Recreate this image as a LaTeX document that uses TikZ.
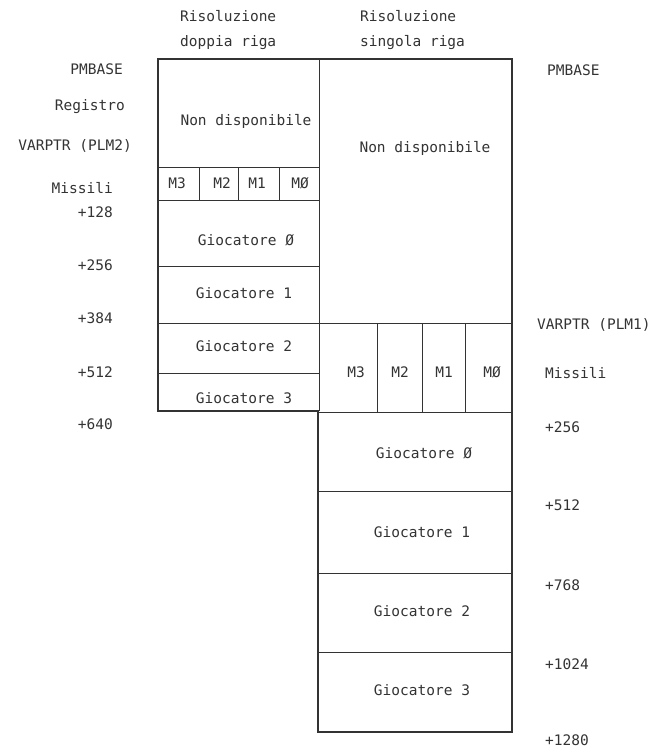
\documentclass[tikz,border=0pt]{standalone}
\usepackage{fontspec}
\setmonofont{DejaVu Sans Mono}
\begin{document}
\begin{tikzpicture}[x=1pt,y=-1pt,
  lbl/.style={font=\ttfamily\fontsize{14.5}{16}\selectfont, text=black!80, inner sep=0pt},
  outer/.style={draw=black!80, line width=1.6pt, line join=miter},
  inner/.style={draw=black!80, line width=0.8pt}]
\useasboundingbox (0,0) rectangle (667,750);
% outline
\draw[outer] (158,59) -- (512,59) -- (512,732) -- (318,732) -- (318,411) -- (158,411) -- cycle;
% internal lines, left column
\draw[inner] (319,59) -- (319,411);
\draw[inner] (158,167) -- (319,167);
\draw[inner] (158,200) -- (319,200);
\draw[inner] (158,266) -- (319,266);
\draw[inner] (158,323) -- (512,323);
\draw[inner] (158,373) -- (319,373);
\draw[inner] (199,167) -- (199,200);
\draw[inner] (238,167) -- (238,200);
\draw[inner] (279,167) -- (279,200);
% internal lines, right column
\draw[inner] (319,412) -- (512,412);
\draw[inner] (377,323) -- (377,412);
\draw[inner] (422,323) -- (422,412);
\draw[inner] (465,323) -- (465,412);
\draw[inner] (319,491) -- (512,491);
\draw[inner] (319,573) -- (512,573);
\draw[inner] (319,652) -- (512,652);
% headers
\node[lbl, anchor=west] (h1a) at (180,16) {Risoluzione};
\node[lbl, anchor=west] (h1b) at (180,43) {doppia riga};
\node[lbl, anchor=west] (h2a) at (360,16) {Risoluzione};
\node[lbl, anchor=west] (h2b) at (360,43) {singola riga};
% left column cells
\node[lbl] (lnd) at (246,121) {Non disponibile};
\node[lbl] (lm3) at (177,183) {M3};
\node[lbl] (lm2) at (222,183) {M2};
\node[lbl] (lm1) at (257,183) {M1};
\node[lbl] (lm0) at (300,183) {MØ};
\node[lbl] (lg0) at (246,240) {Giocatore Ø};
\node[lbl] (lg1) at (244,293) {Giocatore 1};
\node[lbl] (lg2) at (244,346) {Giocatore 2};
\node[lbl] (lg3) at (244,398) {Giocatore 3};
% right column cells
\node[lbl] (rnd) at (425,148) {Non disponibile};
\node[lbl] (rm3) at (356,372) {M3};
\node[lbl] (rm2) at (400,372) {M2};
\node[lbl] (rm1) at (444,372) {M1};
\node[lbl] (rm0) at (492,372) {MØ};
\node[lbl] (rg0) at (424,453) {Giocatore Ø};
\node[lbl] (rg1) at (422,532) {Giocatore 1};
\node[lbl] (rg2) at (422,611) {Giocatore 2};
\node[lbl] (rg3) at (422,690) {Giocatore 3};
% left labels
\node[lbl, anchor=east] (lpm) at (123,69) {PMBASE};
\node[lbl, anchor=east] (lreg) at (125,107) {Registro};
\node[lbl, anchor=east] (lvar) at (132,146) {VARPTR (PLM2)};
\node[lbl, anchor=east] (lmis) at (113,188) {Missili};
\node[lbl, anchor=east] (l128) at (113,212) {+128};
\node[lbl, anchor=east] (l256) at (113,265) {+256};
\node[lbl, anchor=east] (l384) at (113,318) {+384};
\node[lbl, anchor=east] (l512) at (113,372) {+512};
\node[lbl, anchor=east] (l640) at (113,424) {+640};
% right labels
\node[lbl, anchor=west] (rpm) at (547,70) {PMBASE};
\node[lbl, anchor=west] (rvar) at (537,325) {VARPTR (PLM1)};
\node[lbl, anchor=west] (rmis) at (545,373) {Missili};
\node[lbl, anchor=west] (r256) at (545,427) {+256};
\node[lbl, anchor=west] (r512) at (545,505) {+512};
\node[lbl, anchor=west] (r768) at (545,585) {+768};
\node[lbl, anchor=west] (r1024) at (545,664) {+1024};
\node[lbl, anchor=west] (r1280) at (545,740) {+1280};
\end{tikzpicture}
\end{document}
